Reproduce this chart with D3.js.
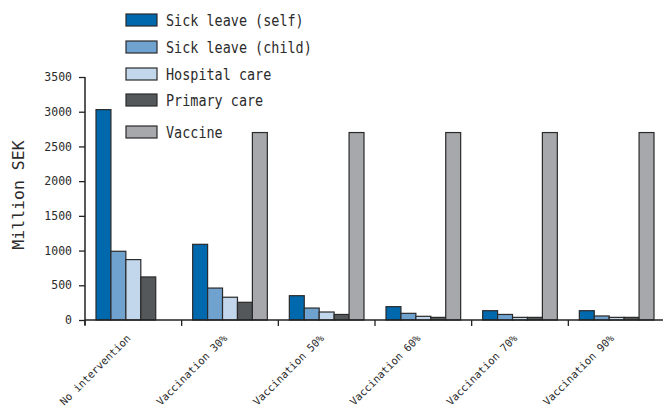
<!DOCTYPE html>
<html>
<head>
<meta charset="utf-8">
<script src="https://cdn.jsdelivr.net/npm/d3@7"></script>
<style>
  html, body { margin: 0; padding: 0; background: #fff; }
  svg { display: block; }
  text { font-family: "DejaVu Sans Mono", "Liberation Mono", monospace; fill: #2b2b2b; }
</style>
</head>
<body>
<svg id="chart" width="663" height="407"></svg>
<script>
const categories = ["No intervention", "Vaccination 30%", "Vaccination 50%", "Vaccination 60%", "Vaccination 70%", "Vaccination 90%"];
const seriesNames = ["Sick leave (self)", "Sick leave (child)", "Hospital care", "Primary care", "Vaccine"];
const sickSelf   = [3030, 1090, 350, 192, 134, 134];
const sickChild  = [990, 460, 172, 96, 80, 58];
const hospital   = [870, 328, 115, 53, 38, 38];
const primary    = [620, 255, 80, 38, 38, 38];
const vaccine    = [0, 2700, 2700, 2700, 2700, 2700];
const yTicks     = [0, 500, 1000, 1500, 2000, 2500, 3000, 3500];
const colors     = ["#0068ad", "#6fa2cf", "#c3d7ec", "#55585a", "#a6a8ab"];

const seriesValues = [sickSelf, sickChild, hospital, primary, vaccine];
const rows = categories.map((c, i) => ({
  cat: c,
  vals: seriesNames.map((s, k) => ({ s, k, v: seriesValues[k][i] }))
}));

const svg = d3.select("#chart");

const x0 = d3.scaleBand().domain(categories).range([85, 665]).padding(0);
const bw = x0.bandwidth();
const x1 = d3.scaleBand().domain(seriesNames).range([11, bw - 11]).padding(0);
const y = d3.scaleLinear().domain([0, 3500]).range([320, 77]);
const color = d3.scaleOrdinal().domain(seriesNames).range(colors);

// bars
const g = svg.append("g");
g.selectAll("g.cat").data(rows).join("g")
  .attr("class", "cat")
  .attr("transform", d => `translate(${x0(d.cat)},0)`)
  .selectAll("rect").data(d => d.vals.filter(v => v.v > 0)).join("rect")
  .attr("x", d => x1(d.s))
  .attr("y", d => y(d.v))
  .attr("width", x1.bandwidth())
  .attr("height", d => y(0) - y(d.v))
  .attr("fill", d => color(d.s))
  .attr("stroke", "#2a2a2a")
  .attr("stroke-width", 1.2);

// y axis
const yAxis = svg.append("g")
  .attr("transform", "translate(85,0)")
  .call(d3.axisLeft(y).tickValues(yTicks).tickSize(6).tickPadding(7).tickFormat(d3.format("d")));
yAxis.select(".domain").attr("d", "M0,77V325").attr("stroke", "#222").attr("stroke-width", 1.5);
yAxis.selectAll(".tick line").attr("stroke", "#222").attr("stroke-width", 1.3);
yAxis.selectAll(".tick text").style("font-size", "11.5px").attr("fill", "#333");

// x axis
const xAxis = svg.append("g").attr("transform", "translate(0,320)");
xAxis.append("line").attr("x1", 85).attr("x2", 665).attr("y1", 0).attr("y2", 0)
  .attr("stroke", "#222").attr("stroke-width", 1.5);
xAxis.selectAll("line.tk").data(categories).join("line")
  .attr("class", "tk")
  .attr("x1", d => x0(d)).attr("x2", d => x0(d))
  .attr("y1", 0).attr("y2", 6)
  .attr("stroke", "#222").attr("stroke-width", 1.3);
xAxis.selectAll("text.lbl").data(categories).join("text")
  .attr("class", "lbl")
  .attr("transform", d => `translate(${x0(d) + bw / 2 - 2},19) rotate(-45)`)
  .attr("text-anchor", "end")
  .style("font-size", "10.5px")
  .attr("fill", "#333")
  .text(d => d);

// y title
svg.append("text")
  .attr("transform", "translate(24,195) rotate(-90)")
  .attr("text-anchor", "middle")
  .style("font-size", "16.5px")
  .attr("fill", "#333")
  .text("Million SEK");

// legend
const legendY = [14, 41, 68, 94, 126];
const lg = svg.append("g").selectAll("g").data(seriesNames).join("g")
  .attr("transform", (d, i) => `translate(126,${legendY[i]})`);
lg.append("rect").attr("width", 31).attr("height", 12)
  .attr("fill", d => color(d)).attr("stroke", "#2a2a2a").attr("stroke-width", 1.2);
lg.append("text").attr("x", 40).attr("y", 11.5)
  .style("font-size", "15px")
  .attr("textLength", d => d.length * 8.1)
  .attr("lengthAdjust", "spacingAndGlyphs")
  .attr("fill", "#222")
  .text(d => d);
</script>
</body>
</html>
